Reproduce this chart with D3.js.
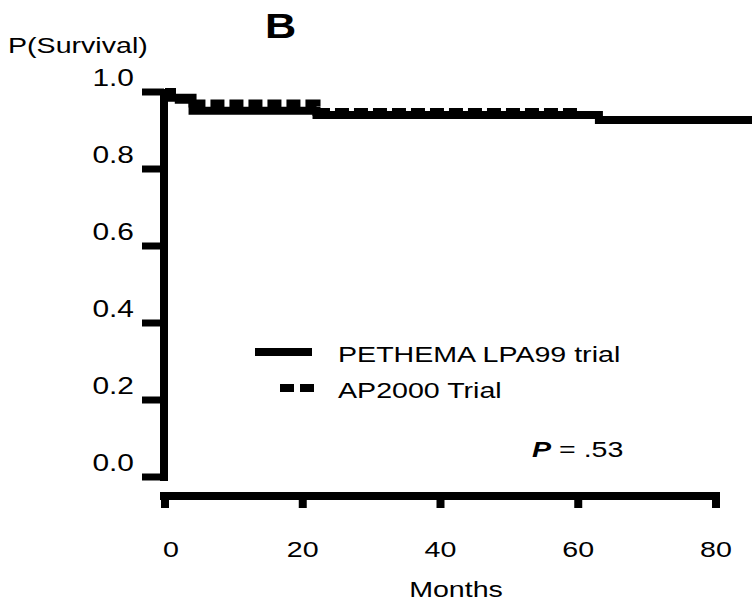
<!DOCTYPE html>
<html lang="en">
<head>
<meta charset="utf-8" />
<style>
    body { margin: 0; background: #fff; }
    text { font-family: "Liberation Sans", Arial, sans-serif; fill: #000; }
</style>
</head>
<body>
<script src="https://d3js.org/d3.v7.min.js"></script>
<script>
    // survival curves (months, P(survival))
    var lpaMonths = [0, 1, 4, 22, 63, 86];
    var lpaSurv = [1.0, 0.985, 0.951, 0.940, 0.927, 0.927];
    var apMonths = [0, 1, 2, 4, 22, 60.5];
    var apSurv = [1.0, 0.99, 0.98, 0.97, 0.948, 0.948];

    var yTicks = [0, 0.2, 0.4, 0.6, 0.8, 1.0];
    var xTicks = [0, 20, 40, 60, 80];
    var seriesNames = ["PETHEMA LPA99 trial", "AP2000 Trial"];
    var pValue = ".53";

    var W = 752, H = 602;
    var svg = d3.select("body").append("svg")
        .attr("width", W).attr("height", H);

    var x = d3.scaleLinear().domain([0, 80]).range([165, 716]);
    var y = d3.scaleLinear().domain([0, 1]).range([477, 92]);

    // the original type is stretched sideways, so scale each label
    var SX = 1.3;
    function label(g, px, py, txt, size, anchor) {
        return g.append("text")
            .attr("transform", "translate(" + px + "," + py + ") scale(" + SX + ",1)")
            .attr("text-anchor", anchor || "start")
            .style("font-size", size + "px")
            .text(txt);
    }

    // panel letter and y title
    svg.append("text").attr("transform", "translate(265,38) scale(1.2,1)")
        .style("font-size", "36px").style("font-weight", "bold").text("B");
    label(svg, 8, 53, "P(Survival)", 22);

    // y axis
    var yAx = svg.append("g");
    yAx.append("line")
        .attr("x1", 164).attr("x2", 164)
        .attr("y1", y(1) - 3).attr("y2", y(0) + 4)
        .attr("stroke", "#000").attr("stroke-width", 8);
    yAx.selectAll(".yt").data(yTicks).enter().append("line")
        .attr("x1", 142).attr("x2", 164)
        .attr("y1", function (d) { return y(d); })
        .attr("y2", function (d) { return y(d); })
        .attr("stroke", "#000").attr("stroke-width", 7);
    yTicks.forEach(function (d) {
        label(yAx, 134, y(d) - 6, d.toFixed(1), 23, "end");
    });

    // x axis, drawn apart from the plot
    var axY = 496;
    var xAx = svg.append("g");
    xAx.append("line")
        .attr("x1", x(0) - 5).attr("x2", x(80) + 4)
        .attr("y1", axY).attr("y2", axY)
        .attr("stroke", "#000").attr("stroke-width", 8);
    xAx.selectAll(".xt").data(xTicks).enter().append("line")
        .attr("x1", function (d) { return x(d); })
        .attr("x2", function (d) { return x(d); })
        .attr("y1", axY).attr("y2", axY + 12)
        .attr("stroke", "#000").attr("stroke-width", 8);
    xTicks.forEach(function (d) {
        label(xAx, x(d) + (d == 0 ? 6 : 0), 557, d, 22, "middle");
    });
    label(svg, 456, 597, "Months", 22, "middle");

    // KM step lines
    var line = d3.line()
        .x(function (d) { return x(d[0]); })
        .y(function (d) { return y(d[1]); })
        .curve(d3.curveStepAfter);

    svg.append("path")
        .datum(d3.zip(apMonths, apSurv))
        .attr("d", line).attr("fill", "none")
        .attr("stroke", "#000").attr("stroke-width", 8)
        .attr("stroke-dasharray", "14,5");
    svg.append("path")
        .datum(d3.zip(lpaMonths, lpaSurv))
        .attr("d", line).attr("fill", "none")
        .attr("stroke", "#000").attr("stroke-width", 8);

    // legend
    var leg = svg.append("g");
    leg.append("line").attr("x1", 255).attr("x2", 312)
        .attr("y1", 352).attr("y2", 352)
        .attr("stroke", "#000").attr("stroke-width", 8);
    leg.append("line").attr("x1", 280).attr("x2", 314)
        .attr("y1", 388).attr("y2", 388)
        .attr("stroke", "#000").attr("stroke-width", 8)
        .attr("stroke-dasharray", "14,6");
    seriesNames.forEach(function (d, i) {
        label(leg, 338, 362 + i * 36, d, 22);
    });

    var pt = svg.append("text")
        .attr("transform", "translate(532,457) scale(" + SX + ",1)")
        .style("font-size", "22px");
    pt.append("tspan").style("font-style", "italic").style("font-weight", "bold").text("P");
    pt.append("tspan").text(" = " + pValue);
</script>
</body>
</html>
